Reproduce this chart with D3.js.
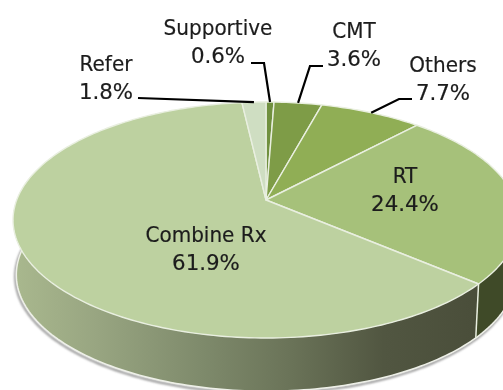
<!DOCTYPE html>
<html><head><meta charset="utf-8">
<script src="https://cdn.jsdelivr.net/npm/d3@7"></script>
<style>html,body{margin:0;padding:0;background:#fff}svg{display:block;filter:blur(0.4px)}</style>
</head><body><svg id="c" width="503" height="390"></svg>
<script>
const categories = ["Supportive","CMT","Others","RT","Combine Rx","Refer"];
const values = [0.6,3.6,7.7,24.4,61.9,1.8];
const topColors = ["#70903f","#7e9c47","#90ae55","#a6c17a","#bdd1a0","#cfdec2"];
const sideColors = ["#5c6b36","#5c6b36","#5c6b36","#3f4a28","url(#wall)","#8f9c78"];

const W=503,H=390,cx=266,cy=200,rx=249.3,ry=114.6,k=0.1695,depth=55,shrink=0.987;
const svg=d3.select("#c");
const arcs=d3.pie().sort(null).value(d=>d)(values);
// Tilted-disc projection of a rim angle
const pt=(a,low)=>{const s=low?shrink:1,d=1+k*Math.cos(a);
  return [cx+s*rx*Math.sin(a)/d,(low?cy+depth:cy)-s*ry*Math.cos(a)/d];};
const line=d3.line();
const samples=(a,b,low)=>{const n=Math.max(2,Math.ceil(Math.abs(b-a)/0.02));
  return d3.range(n+1).map(i=>pt(a+(b-a)*i/n,low));};

const defs=svg.append("defs");
const grad=defs.append("linearGradient").attr("id","wall")
  .attr("gradientUnits","userSpaceOnUse").attr("x1",14).attr("x2",476).attr("y1",0).attr("y2",0);
[[0,"#a9b88e"],[.18,"#98a581"],[.4,"#7f8b6c"],[.6,"#6a7358"],[.8,"#515641"],[1,"#4a4e3a"]]
  .forEach(([o,c])=>grad.append("stop").attr("offset",o).attr("stop-color",c));
defs.append("filter").attr("id","soft").append("feGaussianBlur").attr("stdDeviation",1.2);

const edge="#e9efe0";
const leftEnd=Math.PI*1.58;
const rightStart=arcs[3].startAngle+0.35;
// soft shadow below the lower rim
svg.append("path").attr("d",line(samples(rightStart,leftEnd,true)))
  .attr("transform","translate(-1,2)").attr("fill","none").attr("stroke","#8a8a8a")
  .attr("stroke-width",2).attr("filter","url(#soft)");
// side walls, front half only
const walls=[{i:3,a:rightStart,b:arcs[3].endAngle},{i:4,a:arcs[4].startAngle,b:leftEnd}];
walls.forEach(w=>{
  const p=samples(w.a,w.b,false).concat(samples(w.b,w.a,true));
  svg.append("path").attr("d",line(p)+"Z").attr("fill",sideColors[w.i]);
});
// outer lower rim and the wall seam
svg.append("path").attr("d",line(samples(rightStart,Math.PI*1.55,true)))
  .attr("fill","none").attr("stroke","#eef0e8").attr("stroke-width",1.5);
const seam=arcs[3].endAngle;
svg.append("path").attr("d",line([pt(seam,false),pt(seam,true)]))
  .attr("stroke",edge).attr("stroke-width",1.5).attr("fill","none");

// top face
arcs.forEach((d,i)=>{
  const p=[[cx,cy]].concat(samples(d.startAngle,d.endAngle,false));
  svg.append("path").attr("d",line(p)+"Z").attr("fill",topColors[i])
    .attr("stroke",edge).attr("stroke-width",1.4).attr("stroke-linejoin","round");
});

// label anchors: centre x and first baseline of each two-line label
const labelX=[218,354,443,405,206,106];
const labelY=[35,38,72,183,242,71];
const elbows=[[[251,63],[264,63]],[[323,66],[310,66]],[[412,99],[399,99]],null,null,[[138,98]]];
const pctText=values.map(v=>v.toFixed(1)+"%");

elbows.forEach((e,i)=>{
  if(!e)return;
  const m=(arcs[i].startAngle+arcs[i].endAngle)/2;
  svg.append("path").attr("d",line(e.concat([pt(m,false)])))
    .attr("fill","none").attr("stroke","#000").attr("stroke-width",2.2);
});

const txt=svg.append("g").attr("font-family","'DejaVu Sans',Verdana,sans-serif")
  .attr("font-size",22).attr("fill","#1c1c1c").attr("stroke","#1c1c1c").attr("stroke-width",0.2)
  .attr("text-anchor","middle");
categories.forEach((c,i)=>{
  [c,pctText[i]].forEach((s,j)=>{
    const t=txt.append("text").attr("x",labelX[i]).attr("y",labelY[i]+j*28).text(s);
    const len=t.node().getComputedTextLength();
    t.attr("textLength",len*(j?0.97:0.91)).attr("lengthAdjust","spacingAndGlyphs");
  });
});
</script></body></html>
